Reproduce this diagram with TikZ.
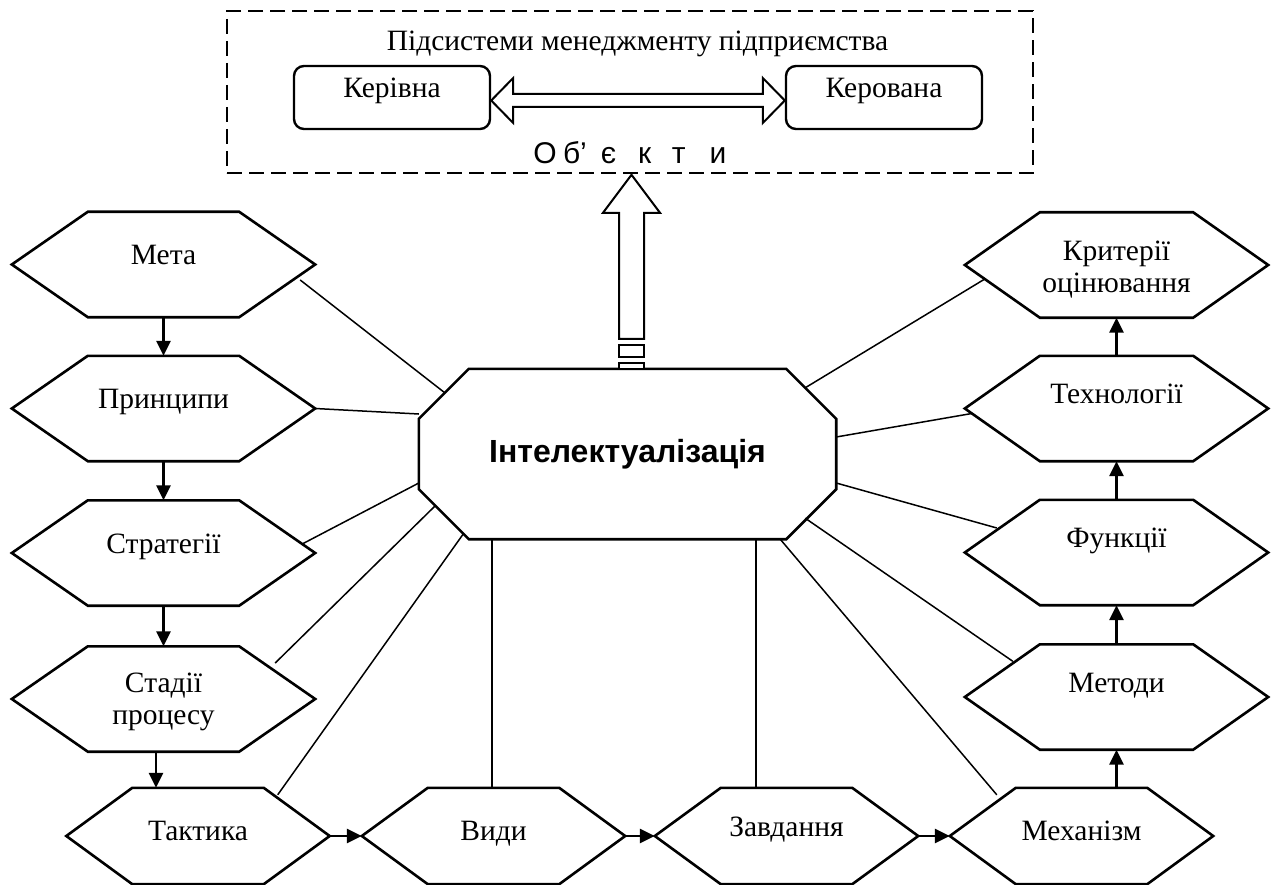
\documentclass[tikz,border=0pt]{standalone}
\usepackage{fontspec}
\setmainfont{Liberation Serif}
\newfontfamily\sansfont{Liberation Sans}
\usetikzlibrary{arrows.meta,calc}
\newcommand\lblfont{\fontsize{29.5}{32}\selectfont}
% hexagon outline drawn around a named node: #1 node, #2 inset of the slanted sides
\newcommand\hexframe[2]{%
  \draw[frame] (#1.west) -- ([xshift=#2]#1.north west) -- ([xshift=-#2]#1.north east)
    -- (#1.east) -- ([xshift=-#2]#1.south east) -- ([xshift=#2]#1.south west) -- cycle;}
\begin{document}
\begin{tikzpicture}[x=1pt,y=-1pt,
  frame/.style={draw, line width=2.6pt, line join=miter},
  link/.style={line width=1.5pt},
  flow/.style={line width=2.6pt, -{Triangle[length=15pt,width=14pt]}},
  hollow/.style={draw, line width=2pt, line join=miter, fill=white},
  sysbox/.style={draw, line width=1.8pt, dash pattern=on 15pt off 7pt,
    minimum width=806pt, minimum height=162pt, inner sep=0pt},
  subbox/.style={draw, line width=2.4pt, rounded corners=10pt, minimum width=196pt,
    minimum height=63pt, inner sep=0pt, font=\lblfont, text height=13pt, text depth=13pt},
  tall/.style={minimum width=303pt, minimum height=105pt, inner sep=0pt, align=center, font=\lblfont},
  flat/.style={minimum width=263pt, minimum height=96pt, inner sep=0pt, font=\lblfont},
  lvlmid/.style={text height=13pt, text depth=13pt},
  lvlup/.style={text height=8pt, text depth=18pt},
  lvldn/.style={text height=17pt, text depth=9pt}]
\useasboundingbox (0,0) rectangle (1276,885);

% subsystems of enterprise management
\node[sysbox] (sys) at (630,92) {};
\node[font=\lblfont, anchor=base, inner sep=0pt] (title) at ($(sys.north)+(7.5,40)$)
  {Підсистеми менеджменту підприємства};
\node[subbox] (kerivna) at (392,97.5) {Керівна};
\node[subbox] (kerovana) at (884,97.5) {Керована};
\node[anchor=base west, inner sep=0pt, font=\sansfont\fontsize{30}{32}\selectfont] (obj)
  at ($(sys.south west)+(307,-10)$)
  {О\hspace{6.4pt}б’\hspace{14pt}є\hspace{22pt}к\hspace{20.5pt}т\hspace{24pt}и};

% central node
\node[font=\sansfont\bfseries\fontsize{32}{35}\selectfont, minimum width=417pt,
  minimum height=170pt, inner sep=0pt] (octo) at (627.5,454) {Інтелектуалізація};
\draw[frame] ([xshift=50pt]octo.north west) -- ([xshift=-50pt]octo.north east)
  -- ([yshift=-50pt]octo.north east) -- ([yshift=50pt]octo.south east)
  -- ([xshift=-50pt]octo.south east) -- ([xshift=50pt]octo.south west)
  -- ([yshift=50pt]octo.south west) -- ([yshift=-50pt]octo.north west) -- cycle;

% left column
\node[tall, lvlmid] (meta) at (163.5,264.5) {Мета};
\node[tall, lvlmid] (pryn) at (163.5,408.5) {Принципи};
\node[tall, lvlmid] (strat) at (163.5,553) {Стратегії};
\node[tall] (stadii) at (163.5,699) {\rule{0pt}{26pt}Стадії\\процесу};
% right column
\node[tall] (kryt) at (1116.5,265) {\rule{0pt}{29pt}Критерії\\оцінювання};
\node[tall, lvlup] (tekh) at (1116.5,408.5) {Технології};
\node[tall, lvlup] (funk) at (1116.5,552.5) {Функції};
\node[tall, lvlup] (metody) at (1116.5,697) {Методи};
% bottom row
\node[flat, lvldn] (taktyka) at (198,836) {Тактика};
\node[flat, lvldn] (vydy) at (493.5,836) {Види};
\node[flat, lvlmid] (zavd) at (786.5,836) {Завдання};
\node[flat, lvldn] (mekh) at (1081.5,836) {Механізм};

\foreach \n in {meta,pryn,strat,stadii} {\hexframe{\n}{76pt}}
\foreach \n in {kryt,tekh,funk,metody} {\hexframe{\n}{75pt}}
\foreach \n in {taktyka,vydy,zavd,mekh} {\hexframe{\n}{66pt}}

% sequence arrows
\draw[flow] (meta.south) -- (pryn.north);
\draw[flow] (pryn.south) -- (strat.north);
\draw[flow] (strat.south) -- (stadii.north);
\coordinate (sd) at ([xshift=-7.5pt]stadii.south);
\draw[flow] (sd) -- (sd |- taktyka.north);
\draw[flow] (taktyka.east) -- (vydy.west);
\draw[flow] (vydy.east) -- (zavd.west);
\draw[flow] (zavd.east) -- (mekh.west);
\draw[flow] (metody.south |- mekh.north) -- (metody.south);
\draw[flow] (metody.north) -- (funk.south);
\draw[flow] (funk.north) -- (tekh.south);
\draw[flow] (tekh.north) -- (kryt.south);

% links to the central node
\draw[link] ($(meta.east)+(-15,15.5)$) -- ($(octo.north west)+(26,24)$);
\draw[link] (pryn.east) -- ($(octo.west)+(0,-40)$);
\draw[link] ($(strat.east)+(-13,-9)$) -- ($(octo.west)+(0,29)$);
\draw[link] ($(stadii.east)+(-40,-36)$) -- ($(octo.south west)+(16,-33)$);
\draw[link] ($(taktyka.north east)+(-52,7)$) -- ($(octo.south west)+(45,-6)$);
\coordinate (vd) at ([xshift=-1.5pt]vydy.north);
\draw[link] (vd) -- (vd |- octo.south);
\coordinate (zv) at ([xshift=-30.5pt]zavd.north);
\draw[link] (zv) -- (zv |- octo.south);
\draw[link] ($(octo.south east)+(-56,0)$) -- ($(mekh.north west)+(47,7)$);
\draw[link] ($(octo.south east)+(-31,-21)$) -- ($(metody.north west)+(48,17)$);
\draw[link] ($(octo.east)+(0,29)$) -- ($(funk.west)+(32,-24.5)$);
\draw[link] ($(octo.east)+(0,-17)$) -- ($(tekh.west)+(7,5)$);
\draw[link] ($(octo.north east)+(-31,19)$) -- ($(kryt.west)+(20,14)$);

% double hollow arrow between the subsystems
\coordinate (la) at ($(kerivna.east)+(0,3)$);
\coordinate (ra) at ($(kerovana.west)+(0,3)$);
\draw[hollow] (la) -- ++(22,-22.5) -- ++(0,16) -- ($(ra)+(-22,-6.5)$) -- ++(0,-16)
  -- (ra) -- ++(-22,22.5) -- ++(0,-16) -- ($(la)+(22,6.5)$) -- ++(0,16) -- cycle;

% hollow arrow up to the objects
\begin{scope}[shift={($(octo.north)+(4,0)$)}]
  \draw[hollow] (0,-194) -- (28.5,-156) -- (12.5,-156) -- (12.5,-30) -- (-12.5,-30)
    -- (-12.5,-156) -- (-28.5,-156) -- cycle;
  \draw[hollow] (-12.5,-24) rectangle (12.5,-12);
  \draw[hollow] (-12.5,-6) rectangle (12.5,0);
\end{scope}
\end{tikzpicture}
\end{document}
